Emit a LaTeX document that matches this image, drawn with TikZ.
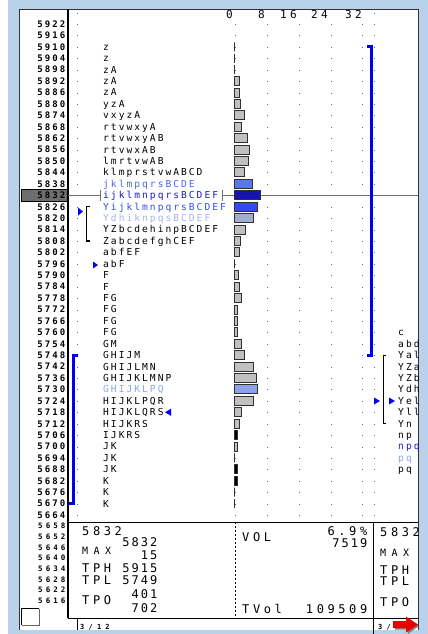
\documentclass[tikz,border=0pt]{standalone}
\usepackage{fontspec}
\setmainfont{DejaVu Sans Mono}
\newfontfamily\tpofont[LetterSpace=21]{DejaVu Sans Mono}
\newfontfamily\pricefont[LetterSpace=23]{DejaVu Sans Mono}
\newfontfamily\lowpricefont[LetterSpace=40]{DejaVu Sans Mono}
\newfontfamily\scalefont[LetterSpace=31]{DejaVu Sans Mono}
\newfontfamily\statfont[LetterSpace=30]{DejaVu Sans Mono}
\newfontfamily\statnumfont[LetterSpace=17]{DejaVu Sans Mono}
\newfontfamily\statsmfont[LetterSpace=55]{DejaVu Sans Mono}
\newfontfamily\pagefont[LetterSpace=60]{DejaVu Sans Mono}
\definecolor{frameblue}{HTML}{B9D1EA}
\definecolor{dotblue}{HTML}{4A5CF0}
\definecolor{vablue}{HTML}{0000F0}
\definecolor{barGray}{HTML}{C0C0C0}
\definecolor{barEdge}{HTML}{303030}
\definecolor{barMid}{HTML}{5A78EC}
\definecolor{barPoc}{HTML}{1414B4}
\definecolor{barBlue}{HTML}{3448F4}
\definecolor{barPale}{HTML}{A2AED0}
\definecolor{barLight}{HTML}{8CA2E6}
\definecolor{tpoMid}{HTML}{4A68E8}
\definecolor{tpoPoc}{HTML}{1A1AD0}
\definecolor{tpoBlue}{HTML}{3050F0}
\definecolor{tpoPale}{HTML}{A8B4EC}
\definecolor{tpoLight}{HTML}{8EA4F0}
\definecolor{pocgray}{HTML}{6E6E6E}
\definecolor{arrowred}{HTML}{E80000}
% row centre of price level #1 (0 = 5922)
\newcommand\tpoy[1]{24+11.42*#1}

\tikzset{
  tpo/.style={inner sep=0pt, anchor=base west, font=\tpofont\fontsize{9.6}{10}\selectfont},
  price/.style={inner sep=0pt, anchor=base east, font=\pricefont\bfseries\fontsize{9}{10}\selectfont},
  lowprice/.style={price, font=\lowpricefont\bfseries\fontsize{7.5}{8}\selectfont},
  scalelbl/.style={inner sep=0pt, anchor=base east, font=\scalefont\fontsize{11}{12}\selectfont},
  stat/.style={inner sep=0pt, font=\statfont\fontsize{12}{13}\selectfont},
  statnum/.style={inner sep=0pt, anchor=base east, font=\statnumfont\fontsize{12}{13}\selectfont},
  statsm/.style={inner sep=0pt, font=\statsmfont\fontsize{10}{11}\selectfont},
  pagelbl/.style={inner sep=0pt, anchor=base west, font=\pagefont\bfseries\fontsize{7}{8}\selectfont},
  bar/.style={draw=barEdge, line width=1pt},
  vabar/.style={draw=vablue, line width=3pt},
  bracket/.style={draw=black, line width=1.2pt},
  marker/.style={fill=vablue},
}

\begin{document}
\begin{tikzpicture}[x=1pt, y=-1pt]
    \useasboundingbox (0,0) rectangle (428,634);

    % Window frame
    \fill[frameblue] (8,0) rectangle (428,634);
    \fill[white] (20,9) rectangle (418,630);
    \draw[black!80, line width=1.5pt] (19.5,630) -- (19.5,9.5) -- (418.5,9.5) -- (418.5,630);

    % Price column separator and lower panel
    \draw[line width=1.3pt] (68,9) -- (68,618);
    \draw[line width=1pt] (68,522) -- (418,522);
    \draw[line width=1pt] (68,618) -- (418,618);
    \draw[line width=1pt] (373,522) -- (373,634);
    \draw[line width=1pt] (77,618) -- (77,630);
    \draw[line width=1pt, dash pattern=on 2pt off 2pt] (235,522) -- (235,618);

    % Scale
    \foreach \x/\v in {233/0, 265/8, 297/16, 328/24, 362/32}
        \node[scalelbl] (scale\v) at (\x,19) {\v};

    % Dotted grid
    \fill[dotblue] (77,13) rectangle ++(1,1);
    \fill[dotblue] (374,13) rectangle ++(1,1);
    \foreach \i in {0,...,43}
        \foreach \x in {77,235,267,299,331,362,374}
            \fill[dotblue] (\x,{\tpoy{\i}}) rectangle ++(1,1);

    % Price labels
    \fill[pocgray, draw=black, line width=0.8pt] (21,189.5) rectangle (67,201);
    \foreach \i in {0,...,43} {
        \pgfmathtruncatemacro\p{5922-6*\i}
        \node[price] (price\p) at (65.5,{\tpoy{\i}+3.3}) {\p};
    }
    \foreach \k in {0,...,7} {
        \pgfmathtruncatemacro\p{5658-6*\k}
        \node[lowprice] (price\p) at (65.5,{526+10.7*\k+2.7}) {\p};
    }
    \fill[white] (21,608) rectangle (39,625);
    \draw[line width=1.5pt] (21.5,625) -- (21.5,608.5) -- (39,608.5);
    \draw[black!60, line width=0.6pt] (39,608.5) -- (39,625) -- (21.5,625);

    % POC line
    \draw[pocgray, line width=1pt] (68,195.3) -- (100,195.3);
    \draw[pocgray, line width=1pt] (100,190) -- (100,201);
    \draw[pocgray, line width=1pt] (222,190) -- (222,201);
    \draw[pocgray, line width=1pt] (222,195.3) -- (418,195.3);

    % Volume histogram
    \foreach \i/\w/\f in {2/0/barGray, 3/0/barGray, 4/0/barGray, 5/4.7/barGray,
            6/4.7/barGray, 7/6.3/barGray, 8/10/barGray, 9/7.3/barGray,
            10/13/barGray, 11/15.3/barGray, 12/14.3/barGray, 13/10/barGray,
            14/18/barMid, 15/26.3/barPoc, 16/23.3/barBlue, 17/19.3/barPale,
            18/11.3/barGray, 19/6.3/barGray, 20/4.7/barGray, 21/0/barGray,
            22/3.7/barGray, 23/5/barGray, 24/7.3/barGray, 25/3.3/barGray,
            26/3.3/barGray, 27/3.3/barGray, 28/7.3/barGray, 29/10/barGray,
            30/19.3/barGray, 31/22/barGray, 32/23.3/barLight, 33/19.3/barGray,
            34/7.3/barGray, 35/4.7/barGray, 36/2.7/black, 37/3.3/barGray,
            38/0/barGray, 39/2.7/black, 40/2.7/black, 41/0/barGray, 42/0/barGray}
        \draw[bar, fill=\f] (234.5,{\tpoy{\i}-4.5}) rectangle ++(\w,9);

    % TPO letters
    \foreach \i/\t/\c in {2/z/black, 3/z/black, 4/zA/black, 5/zA/black, 6/zA/black,
            7/yzA/black, 8/vxyzA/black, 9/rtvwxyA/black, 10/rtvwxyAB/black,
            11/rtvwxAB/black, 12/lmrtvwAB/black, 13/klmprstvwABCD/black,
            14/jklmpqrsBCDE/tpoMid, 15/ijklmnpqrsBCDEF/tpoPoc,
            16/YijklmnpqrsBCDEF/tpoBlue, 17/YdhiknpqsBCDEF/tpoPale,
            18/YZbcdehinpBCDEF/black, 19/ZabcdefghCEF/black, 20/abfEF/black,
            21/abF/black, 22/F/black, 23/F/black, 24/FG/black, 25/FG/black,
            26/FG/black, 27/FG/black, 28/GM/black, 29/GHIJM/black,
            30/GHIJLMN/black, 31/GHIJKLMNP/black, 32/GHIJKLPQ/tpoLight,
            33/HIJKLPQR/black, 34/HIJKLQRS/black, 35/HIJKRS/black,
            36/IJKRS/black, 37/JK/black, 38/JK/black, 39/JK/black,
            40/K/black, 41/K/black, 42/K/black}
        \node[tpo, text=\c] (tpo\i) at (103,{\tpoy{\i}+3.4}) {\t};

    % Value area bars and single prints
    \draw[vabar] (367,46.8) -- (371.5,46.8) -- (371.5,355.2) -- (367,355.2);
    \draw[vabar] (78,355.2) -- (73.5,355.2) -- (73.5,503.6) -- (69,503.6);
    \draw[bracket] (90,206.7) -- (86.5,206.7) -- (86.5,241) -- (90,241);
    \draw[bracket] (386,355.2) -- (383.5,355.2) -- (383.5,423.7) -- (386,423.7);

    % Markers
    \fill[marker] (78,207.5) -- (83,211.5) -- (78,215.5) -- cycle;
    \fill[marker] (93,261.5) -- (98,265) -- (93,268.5) -- cycle;
    \fill[marker] (165,412.3) -- (171,408.8) -- (171,415.8) -- cycle;
    \fill[marker] (374,397.5) -- (380,401) -- (374,404.5) -- cycle;
    \fill[marker] (389,397.5) -- (395,401) -- (389,404.5) -- cycle;

    % Next session, cut off at the frame
    \begin{scope}
        \clip (375,0) rectangle (418,634);
        \foreach \i/\t/\c in {27/c/black, 28/abd/black, 29/Yal/black, 30/YZa/black,
                31/YZb/black, 32/Ydh/black, 33/Yel/black, 34/Yll/black,
                35/Yn/black, 36/np/black, 37/npq/tpoPoc, 38/pq/tpoLight,
                39/pq/black}
            \node[tpo, text=\c] (next\i) at (398,{\tpoy{\i}+3.4}) {\t};
        \node[stat, anchor=base west] (nextpoc) at (380,536) {5832};
        \node[statsm, anchor=base west] (nextmax) at (380,556.6) {MAX};
        \node[stat, anchor=base west] (nexttph) at (380,574) {TPH};
        \node[stat, anchor=base west] (nexttpl) at (380,585) {TPL};
        \node[stat, anchor=base west] (nexttpo) at (380,606) {TPO};
        \node[pagelbl] (nextpage) at (378,629.5) {3/};
        \fill[black!50] (395,622.5) -- (408,622.5) -- (408,618) -- (419,626) -- (408,634) -- (408,629.5) -- (395,629.5) -- cycle;
        \fill[arrowred] (393,621) -- (406,621) -- (406,616.5) -- (418,624.5) -- (406,632.5) -- (406,628) -- (393,628) -- cycle;
    \end{scope}

    % Session statistics
    \node[stat, anchor=base west] (poc) at (82,535) {5832};
    \node[statsm, anchor=base west] (maxlbl) at (82,554.6) {MAX};
    \node[statnum] (maxprice) at (157.5,546.3) {5832};
    \node[statnum] (maxcount) at (157.5,559.3) {15};
    \node[stat, anchor=base west] (tphlbl) at (82,572.3) {TPH};
    \node[statnum] (tph) at (157.5,572.3) {5915};
    \node[stat, anchor=base west] (tpllbl) at (82,584.3) {TPL};
    \node[statnum] (tpl) at (157.5,584.3) {5749};
    \node[stat, anchor=base west] (tpolbl) at (82,604.3) {TPO};
    \node[statnum] (tpoup) at (157.5,598.3) {401};
    \node[statnum] (tpodown) at (157.5,612.3) {702};
    \node[stat, anchor=base west] (vollbl) at (242,541) {VOL};
    \node[stat, anchor=base east] (volpct) at (367.5,535) {6.9\%};
    \node[statnum] (vol) at (367.5,547) {7519};
    \node[stat, anchor=base west] (tvollbl) at (242,613) {TVol};
    \node[statnum, font=\statfont\fontsize{12}{13}\selectfont] (tvol) at (367.5,613) {109509};
    \node[pagelbl] (page) at (80,629.5) {3/12};
\end{tikzpicture}
\end{document}
